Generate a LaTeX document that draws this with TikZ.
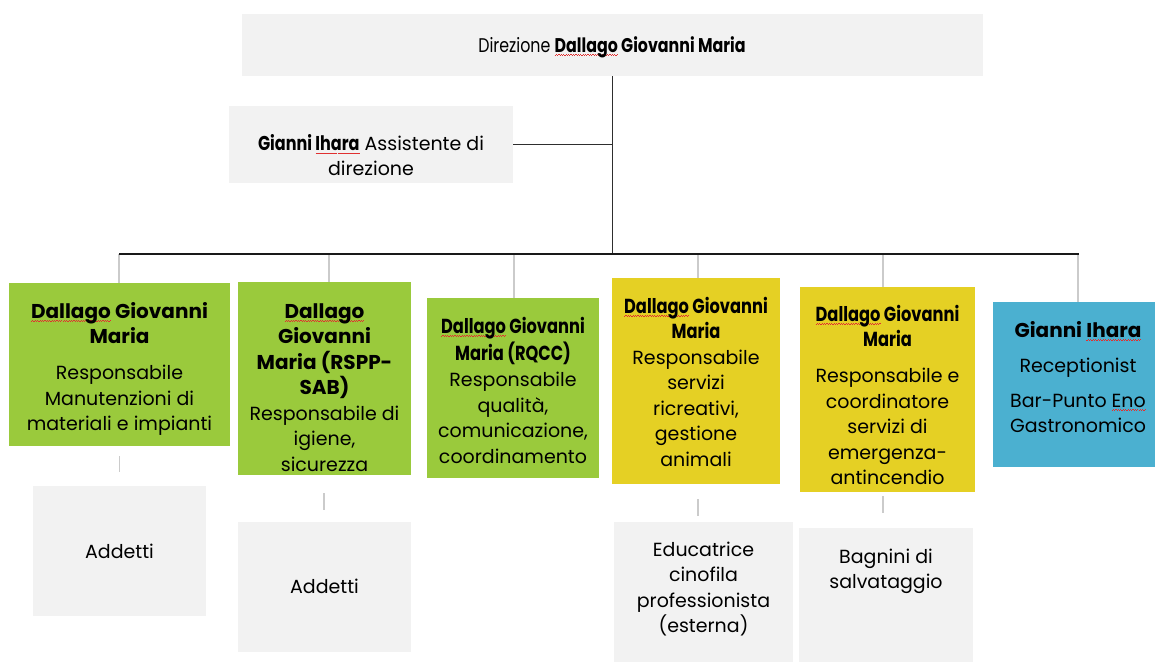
\documentclass[tikz,border=0pt]{standalone}
\usepackage{fontspec}
\setmainfont{Poppins}
\newfontfamily\condfont[FakeStretch=0.8]{Poppins}
\usepackage{xcolor}
\definecolor{boxgray}{HTML}{F2F2F2}
\definecolor{boxgreen}{HTML}{9ACA3C}
\definecolor{boxyellow}{HTML}{E5D024}
\definecolor{boxblue}{HTML}{4BB0D0}
\definecolor{stubgray}{HTML}{CBCBCB}
\definecolor{linedark}{HTML}{2E2E2E}
\definecolor{wavered}{HTML}{E03030}
\newcommand\spk[1]{\setbox0=\hbox{#1}\rlap{\lower3.5pt\hbox to \wd0{\color{wavered}\xleaders\hbox{\rule[0pt]{1.2pt}{0.55pt}\rule[0.8pt]{1.2pt}{0.55pt}}\hfill}}\box0\relax}
\newcommand\hd[1]{{\fontsize{20}{25.5}\selectfont\bfseries #1}}
\newcommand\hdc[1]{{\condfont\fontsize{20.3}{25.5}\selectfont\bfseries #1}}
\tikzset{
  box/.style={rectangle, draw=none, inner sep=0pt, outer sep=0pt},
  txt/.style={anchor=north, inner sep=0pt, outer sep=0pt, align=center,
    font=\fontsize{19}{25.5}\selectfont, text=black},
  txtone/.style={anchor=base, inner sep=0pt, outer sep=0pt,
    font=\fontsize{19}{25.5}\selectfont, text=black},
  conn/.style={draw=linedark, line width=1.3pt},
  bus/.style={draw=black!90, line width=2.6pt},
  drop/.style={draw=stubgray, line width=1.2pt},
}
\begin{document}
\begin{tikzpicture}[x=1pt,y=-1pt]
\useasboundingbox (0,0) rectangle (1155,662);
% boxes
\node[box, fill=boxgray, minimum width=741pt, minimum height=62pt] (dir) at (612.5,45) {};
\node[box, fill=boxgray, minimum width=284pt, minimum height=77pt] (asst) at (371,144.5) {};
\node[box, fill=boxgreen, minimum width=221pt, minimum height=163pt] (b1) at (119.5,364.5) {};
\node[box, fill=boxgreen, minimum width=173pt, minimum height=193pt] (b2) at (324.5,378.5) {};
\node[box, fill=boxgreen, minimum width=172pt, minimum height=180pt] (b3) at (513,388) {};
\node[box, fill=boxyellow, minimum width=168pt, minimum height=206pt] (b4) at (696,381) {};
\node[box, fill=boxyellow, minimum width=175pt, minimum height=205pt] (b5) at (887.5,389.5) {};
\node[box, fill=boxblue, minimum width=162pt, minimum height=165pt] (b6) at (1074,384.5) {};
\node[box, fill=boxgray, minimum width=173pt, minimum height=130pt] (a1) at (119.5,551) {};
\node[box, fill=boxgray, minimum width=173pt, minimum height=130pt] (a2) at (324.5,587) {};
\node[box, fill=boxgray, minimum width=179pt, minimum height=140pt] (edu) at (703.5,592) {};
\node[box, fill=boxgray, minimum width=174pt, minimum height=134pt] (bag) at (886,595) {};
% texts
\node[txtone] (tdir) at (612,52) {\condfont\fontsize{19.8}{24}\selectfont Direzione \textbf{\spk{Dallago} Giovanni Maria}};
\node[txt] (tasst) at (371,132.5) {\strut{\condfont\fontsize{20}{25.5}\selectfont\bfseries Gianni \spk{Ihara}} Assistente di\\direzione};
\node[txt] (t1) at (119.5,300.15) {\hd{\strut\spk{Dallago} Giovanni}\\\hd{Maria}\\[10.5pt]Responsabile\\Manutenzioni di\\materiali e impianti};
\node[txt] (t2) at (324.5,300.15) {\hd{\strut\spk{Dallago}}\\\hd{Giovanni}\\\hd{Maria (RSPP-}\\\hd{SAB)}\\Responsabile di\\igiene,\\sicurezza};
\node[txt] (t3) at (513,315.15) {\hdc{\strut\spk{Dallago} Giovanni}\\\hdc{Maria (RQCC)}\\[1pt]Responsabile\\qualità,\\comunicazione,\\coordinamento};
\node[txt] (t4) at (696,295.15) {\hdc{\strut\spk{Dallago} Giovanni}\\\hdc{Maria}\\Responsabile\\servizi\\ricreativi,\\gestione\\animali};
\node[txt] (t5) at (887.5,303.15) {\hdc{\strut\spk{Dallago} Giovanni}\\\hdc{Maria}\\[10.5pt]Responsabile e\\coordinatore\\servizi di\\emergenza-\\antincendio};
\node[txt] (t6) at (1078,319.15) {\hd{\strut Gianni \spk{Ihara}}\\[9.5pt]Receptionist\\[9.5pt]Bar-Punto \spk{Eno}\\Gastronomico};
\node[txtone] (ta1) at (119.5,558) {Addetti};
\node[txtone] (ta2) at (324.5,593) {Addetti};
\node[txt] (tedu) at (703.5,538.15) {\strut Educatrice\\cinofila\\professionista\\(esterna)};
\node[txt] (tbag) at (886,545.15) {\strut Bagnini di\\salvataggio};
% connectors
\coordinate (busL) at (119,254);
\coordinate (busR) at (1079,254);
\coordinate (d1) at (119,254);
\coordinate (d2) at (329,254);
\coordinate (d3) at (514,254);
\coordinate (d4) at (698,254);
\coordinate (d5) at (883,254);
\coordinate (d6) at (1078,254);
\draw[drop] (d1) -- (d1 |- b1.north);
\draw[drop] (d2) -- (d2 |- b2.north);
\draw[drop] (d3) -- (d3 |- b3.north);
\draw[drop] (d4) -- (d4 |- b4.north);
\draw[drop] (d5) -- (d5 |- b5.north);
\draw[drop] (d6) -- (d6 |- b6.north);
\coordinate (s1a) at (119.5,456);
\coordinate (s1b) at (119.5,472);
\coordinate (s2a) at (324,493);
\coordinate (s2b) at (324,510);
\coordinate (s4a) at (698,499);
\coordinate (s4b) at (698,516);
\coordinate (s5a) at (883,496);
\coordinate (s5b) at (883,513);
\draw[drop] (s1a) -- (s1b);
\draw[drop] (s2a) -- (s2b);
\draw[drop] (s4a) -- (s4b);
\draw[drop] (s5a) -- (s5b);
\draw[conn] (dir.south) -- (dir.south |- busL);
\draw[conn] (asst.east) -- (asst.east -| dir.south);
\draw[bus] (busL) -- (busR);
\end{tikzpicture}
\end{document}
